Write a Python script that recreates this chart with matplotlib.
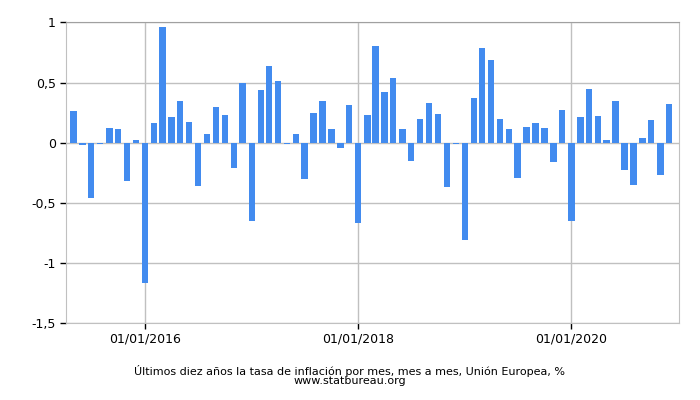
import numpy as np
import matplotlib
matplotlib.use('Agg')
import matplotlib.pyplot as plt
import matplotlib.dates as mdates
import pandas as pd

# monthly EU inflation, month over month, May 2015 - Dec 2020
months = pd.date_range('2015-05-01', '2020-12-01', freq='MS')
values = [0.26, -0.02, -0.46, -0.01, 0.12, 0.11, -0.32, 0.02,
          -1.17, 0.16, 0.96, 0.21, 0.35, 0.17, -0.36, 0.07, 0.30, 0.23, -0.21, 0.50,
          -0.65, 0.44, 0.64, 0.51, -0.01, 0.07, -0.30, 0.25, 0.35, 0.11, -0.04, 0.31,
          -0.67, 0.23, 0.80, 0.42, 0.54, 0.11, -0.15, 0.20, 0.33, 0.24, -0.37, -0.01,
          -0.81, 0.37, 0.79, 0.69, 0.20, 0.11, -0.29, 0.13, 0.16, 0.12, -0.16, 0.27,
          -0.65, 0.21, 0.45, 0.22, 0.02, 0.35, -0.23, -0.35, 0.04, 0.19, -0.27, 0.32]

yticks = [1, 0.5, 0, -0.5, -1, -1.5]
ytick_labels = ['1', '0,5', '0', '-0,5', '-1', '-1,5']
xticks = pd.to_datetime(['2016-01-01', '2018-01-01', '2020-01-01'])
xtick_labels = ['01/01/2016', '01/01/2018', '01/01/2020']

title = 'Últimos diez años la tasa de inflación por mes, mes a mes, Unión Europea, %'
source = 'www.statbureau.org'

fig = plt.figure(figsize=(7, 4), dpi=100)
ax = fig.add_axes([0.0936, 0.192, 0.876, 0.752])

ax.bar(months, values, width=22, color='#428bef', zorder=3)

ax.set_ylim(-1.5, 1)
ax.set_xlim(pd.Timestamp('2015-04-04'), pd.Timestamp('2021-01-03'))
ax.set_yticks(yticks)
ax.set_yticklabels(ytick_labels)
ax.set_xticks(xticks)
ax.set_xticklabels(xtick_labels)

ax.grid(True, color='#c0c0c0', linewidth=1, zorder=0)
for s in ['left', 'right', 'bottom']:
    ax.spines[s].set_color('#c0c0c0')
ax.spines['top'].set_color('#a0a0a0')
ax.tick_params(axis='both', length=4, width=1, color='black', labelsize=9, pad=3)

fig.text(0.5, 0.0725, title, ha='center', va='center', fontsize=8)
fig.text(0.5, 0.047, source, ha='center', va='center', fontsize=8)

fig.savefig('out.png', dpi=100)
